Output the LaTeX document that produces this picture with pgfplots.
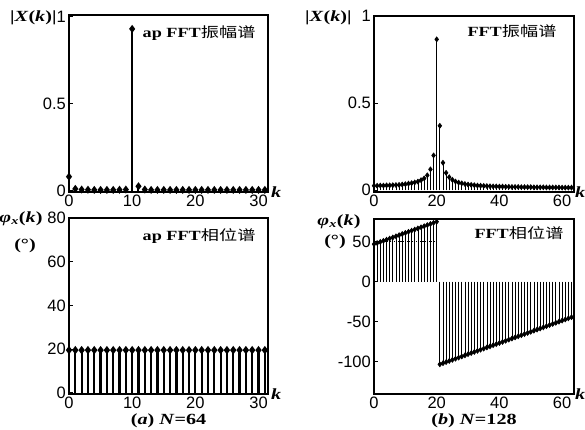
\documentclass[border=0pt]{standalone}
\usepackage{pgfplots}
\pgfplotsset{compat=1.18}
\usepackage{graphicx}
\usepackage{fontspec}
\setmainfont{Liberation Serif}
\setsansfont{Liberation Sans}
\newfontfamily\cjk{Noto Sans CJK SC}

% text in the reference is set wide, so stretch it horizontally
\newcommand{\wide}[1]{\scalebox{1.3}[1]{#1}}
\newcommand{\ttl}[2]{\wide{\fontsize{14}{14}\selectfont\bfseries #1{\cjk\mdseries #2}}}
\newcommand{\lbl}[1]{\wide{\fontsize{15.5}{15.5}\selectfont\bfseries #1}}

\pgfplotsset{
  panel/.style={
    scale only axis, clip=false,
    axis line style={line width=1.1pt},
    tick pos=left, tick align=inside,
    major tick length=4pt,
    tick style={line width=0.8pt, black},
    x tick style={draw=none},
    tick label style={font=\sffamily\fontsize{16.5}{16.5}\selectfont, inner sep=1pt},
    xticklabel style={yshift=-1.5pt},
    yticklabel style={xshift=-2pt},
    /pgf/number format/assume math mode=true,
  },
  stem/.style={ycomb, black, mark=diamond*, mark size=2.4pt, mark options={solid}},
}

\begin{document}
\begin{tikzpicture}
\path[use as bounding box] (0,0) rectangle (585pt,-430pt);

% ---- (a) amplitude
\begin{axis}[panel, at={(69pt,-15pt)}, anchor=north west,
  width=199pt, height=177pt,
  xmin=0, xmax=31.5, ymin=-0.008, ymax=1.01,
  xtick={0,10,20,30}, ytick={0,0.5,1}]
\addplot[stem, line width=2pt] coordinates {
(0,0.08) (1,0.01) (2,0.006) (3,0.005) (4,0.004) (5,0.004) (6,0.004) (7,0.004)
(8,0.005) (9,0.006) (10,0.93) (11,0.025) (12,0.006) (13,0.004) (14,0.004) (15,0.004)
(16,0.004) (17,0.004) (18,0.004) (19,0.004) (20,0.004) (21,0.004) (22,0.004) (23,0.004)
(24,0.004) (25,0.004) (26,0.004) (27,0.004) (28,0.004) (29,0.004) (30,0.004) (31,0.004)};
\node[anchor=east] at ([xshift=-9pt,yshift=-18pt]rel axis cs:1,1) {\ttl{ap FFT}{振幅谱}};
\node[anchor=east] at ([xshift=-9pt,yshift=-3pt]rel axis cs:0,1) {\lbl{|\textit{X}(\textit{k})|}};
\node[anchor=west, inner sep=1pt] at ([xshift=2pt]rel axis cs:1,0) {\lbl{\textit{k}}};
\end{axis}

% ---- (b) amplitude
\begin{axis}[panel, at={(374pt,-16pt)}, anchor=north west,
  width=200pt, height=176pt,
  xmin=0, xmax=63.8, ymin=-0.01, ymax=1.0,
  xtick={0,20,40,60}, ytick={0,0.5,1}]
\addplot[stem, line width=0.7pt] coordinates {
(0,0.026) (1,0.026) (2,0.027) (3,0.027) (4,0.028) (5,0.028) (6,0.029) (7,0.030)
(8,0.031) (9,0.033) (10,0.035) (11,0.038) (12,0.041) (13,0.045) (14,0.050) (15,0.058)
(16,0.068) (17,0.086) (18,0.120) (19,0.200) (20,0.866) (21,0.370) (22,0.158) (23,0.100)
(24,0.075) (25,0.060) (26,0.050) (27,0.044) (28,0.040) (29,0.036) (30,0.033) (31,0.031)
(32,0.029) (33,0.027) (34,0.026) (35,0.025) (36,0.024) (37,0.023) (38,0.022) (39,0.022)
(40,0.021) (41,0.021) (42,0.020) (43,0.020) (44,0.019) (45,0.019) (46,0.019) (47,0.018)
(48,0.018) (49,0.018) (50,0.018) (51,0.017) (52,0.017) (53,0.017) (54,0.017) (55,0.016)
(56,0.016) (57,0.016) (58,0.016) (59,0.016) (60,0.015) (61,0.015) (62,0.015) (63,0.015)};
\node[anchor=east] at ([xshift=-14pt,yshift=-15pt]rel axis cs:1,1) {\ttl{FFT}{振幅谱}};
\node[anchor=east] at ([xshift=-19pt,yshift=-2pt]rel axis cs:0,1) {\lbl{|\textit{X}(\textit{k})|}};
\node[anchor=west, inner sep=0pt] at ([xshift=1pt]rel axis cs:1,0) {\lbl{\textit{k}}};
\end{axis}

% ---- (a) phase
\begin{axis}[panel, at={(69pt,-218pt)}, anchor=north west,
  width=199pt, height=176pt,
  xmin=0, xmax=31.5, ymin=-0.6, ymax=80,
  xtick={0,10,20,30}, ytick={0,20,40,60,80}]
\addplot[stem, line width=2.2pt] coordinates {
(0,19.5) (1,19.5) (2,19.5) (3,19.5) (4,19.5) (5,19.5) (6,19.5) (7,19.5)
(8,19.5) (9,19.5) (10,19.5) (11,19.5) (12,19.5) (13,19.5) (14,19.5) (15,19.5)
(16,19.5) (17,19.5) (18,19.5) (19,19.5) (20,19.5) (21,19.5) (22,19.5) (23,19.5)
(24,19.5) (25,19.5) (26,19.5) (27,19.5) (28,19.5) (29,19.5) (30,19.5) (31,19.5)};
\node[anchor=east] at ([xshift=-9pt,yshift=-18pt]rel axis cs:1,1) {\ttl{ap FFT}{相位谱}};
\node[anchor=east] at ([xshift=-23pt,yshift=-1pt]rel axis cs:0,1) {\lbl{\textit{φ}\textsubscript{\textit{x}}(\textit{k})}};
\node at ([xshift=-44pt,yshift=-28pt]rel axis cs:0,1) {\lbl{(°)}};
\node[anchor=west, inner sep=1pt] at ([xshift=2pt]rel axis cs:1,0) {\lbl{\textit{k}}};
\node at ([yshift=-27pt]rel axis cs:0.5,0) {\lbl{(\textit{a}) \textit{N}=64}};
\end{axis}

% ---- (b) phase
\begin{axis}[panel, at={(374pt,-219pt)}, anchor=north west,
  width=200pt, height=175pt,
  xmin=0, xmax=63.8, ymin=-140.75, ymax=78.4,
  xtick={0,20,40,60}, ytick={-100,-50,0,50}]
\addplot[stem, line width=0.7pt] coordinates {
(0,46.9) (1,48.3) (2,49.7) (3,51.1) (4,52.5) (5,53.9) (6,55.3) (7,56.7)
(8,58.2) (9,59.6) (10,61.0) (11,62.4) (12,63.8) (13,65.2) (14,66.6) (15,68.0)
(16,69.4) (17,70.8) (18,72.2) (19,73.6) (20,75.0) (21,-103.6) (22,-102.2) (23,-100.8)
(24,-99.4) (25,-98.0) (26,-96.6) (27,-95.2) (28,-93.8) (29,-92.4) (30,-90.9) (31,-89.5)
(32,-88.1) (33,-86.7) (34,-85.3) (35,-83.9) (36,-82.5) (37,-81.1) (38,-79.7) (39,-78.3)
(40,-76.9) (41,-75.5) (42,-74.1) (43,-72.7) (44,-71.3) (45,-69.9) (46,-68.5) (47,-67.1)
(48,-65.7) (49,-64.3) (50,-62.9) (51,-61.5) (52,-60.1) (53,-58.7) (54,-57.3) (55,-55.9)
(56,-54.4) (57,-53.0) (58,-51.6) (59,-50.2) (60,-48.8) (61,-47.4) (62,-46.0) (63,-44.6)};
\addplot[black, densely dotted, line width=1.2pt] coordinates {(0,50) (20,50)};
\node[anchor=east] at ([xshift=-7pt,yshift=-14pt]rel axis cs:1,1) {\ttl{FFT}{相位谱}};
\node[anchor=east] at ([xshift=-10pt,yshift=-3pt]rel axis cs:0,1) {\lbl{\textit{φ}\textsubscript{\textit{x}}(\textit{k})}};
\node at ([xshift=-39pt,yshift=-23pt]rel axis cs:0,1) {\lbl{(°)}};
\node[anchor=west, inner sep=0pt] at ([xshift=1pt]rel axis cs:1,0) {\lbl{\textit{k}}};
\node at ([yshift=-27pt]rel axis cs:0.5,0) {\lbl{(\textit{b}) \textit{N}=128}};
\end{axis}
\end{tikzpicture}
\end{document}
